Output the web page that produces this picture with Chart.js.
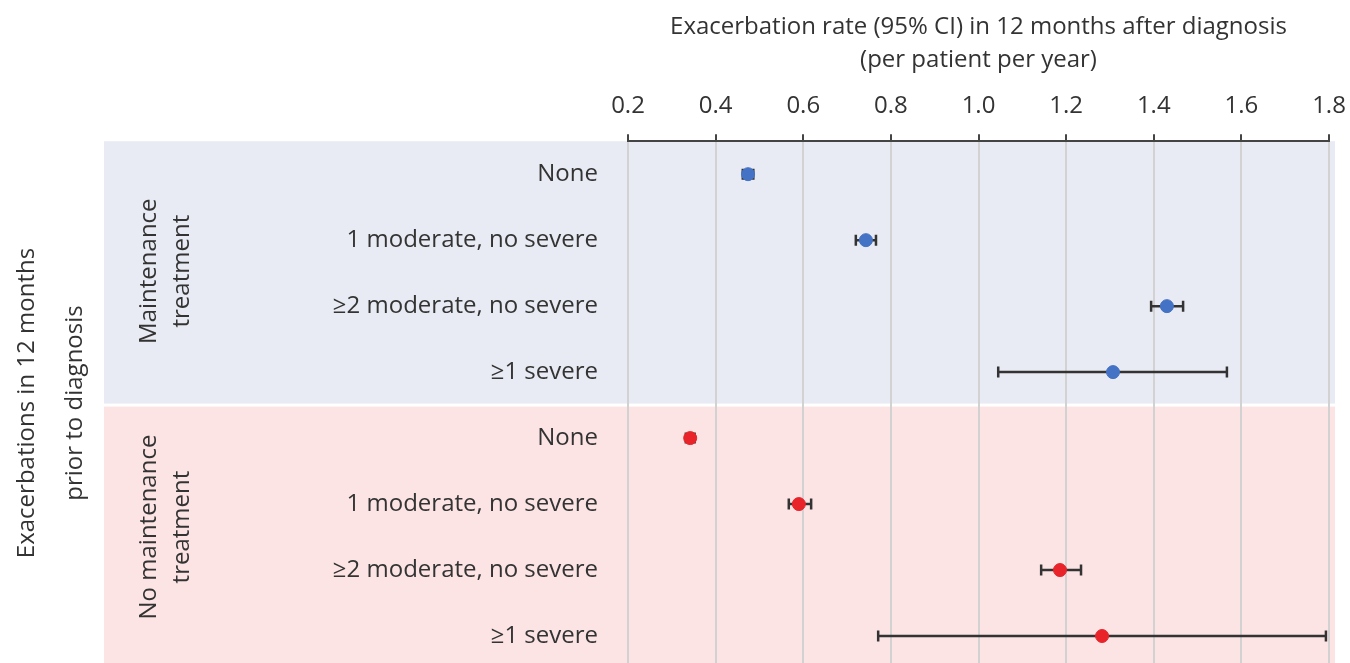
<!DOCTYPE html>
<html>
<head>
<meta charset="utf-8">
<script src="https://cdn.jsdelivr.net/npm/chart.js@4.4.1/dist/chart.umd.min.js"></script>
<style>
  html, body { margin: 0; padding: 0; background: #fff; overflow: hidden; }
  #wrap { width: 1350px; height: 663px; overflow: hidden; }
</style>
</head>
<body>
<div id="wrap"><canvas id="rateChart" width="1350" height="672"></canvas></div>
<script>
// Exacerbation rate after diagnosis, by prior exacerbation history and treatment
var rowLabels = [
    'None', '1 moderate, no severe', '\u22652 moderate, no severe', '\u22651 severe',
    'None', '1 moderate, no severe', '\u22652 moderate, no severe', '\u22651 severe'
];
var groupLabels = [['Maintenance', 'treatment'], ['No maintenance', 'treatment']];
var xTicks = [0.2, 0.4, 0.6, 0.8, 1.0, 1.2, 1.4, 1.6, 1.8];

// maintenance treatment (rows 0-3)
var maintRate = [0.474, 0.743, 1.430, 1.307];
var maintLow  = [0.462, 0.720, 1.394, 1.045];
var maintHigh = [0.486, 0.766, 1.467, 1.567];

// no maintenance treatment (rows 4-7)
var noMaintRate = [0.342, 0.590, 1.186, 1.282];
var noMaintLow  = [0.332, 0.567, 1.143, 0.771];
var noMaintHigh = [0.352, 0.618, 1.234, 1.793];

var FONT = '"Open Sans", Lato, sans-serif';
var FONT_SIZE = 24;
var TEXT = '#333';

function toPoints(rate, low, high, offset) {
    return rate.map(function (r, i) {
        return { x: r, y: i + offset, lo: low[i], hi: high[i] };
    });
}

var bandsPlugin = {
    id: 'bands',
    beforeDraw: function (chart) {
        var ctx = chart.ctx, area = chart.chartArea, y = chart.scales.y;
        var mid = y.getPixelForValue(3.5);
        var left = 104, right = area.right + 6;
        ctx.save();
        ctx.fillStyle = '#e8ebf3';
        ctx.fillRect(left, area.top, right - left, mid - 1.5 - area.top);
        ctx.fillStyle = '#fce4e4';
        ctx.fillRect(left, mid + 1.5, right - left, area.bottom - mid - 1.5);

        // group labels, rotated
        ctx.fillStyle = TEXT;
        ctx.font = FONT_SIZE + 'px ' + FONT;
        ctx.textAlign = 'center';
        ctx.textBaseline = 'middle';
        var centers = [(area.top + mid) / 2 - 2, (mid + area.bottom) / 2 - 10];
        groupLabels.forEach(function (lines, g) {
            ctx.save();
            ctx.translate(166, centers[g]);
            ctx.rotate(-Math.PI / 2);
            lines.forEach(function (t, k) {
                ctx.fillText(t, 0, (k - 0.5) * 33);
            });
            ctx.restore();
        });

        // outer axis title
        ctx.save();
        ctx.translate(51, 403);
        ctx.rotate(-Math.PI / 2);
        ctx.fillText('Exacerbations in 12 months', 0, -24);
        ctx.fillText('prior to diagnosis', 0, 24);
        ctx.restore();
        ctx.restore();
    },
    beforeDatasetsDraw: function (chart) {
        var ctx = chart.ctx, xs = chart.scales.x, ys = chart.scales.y;
        ctx.save();
        ctx.strokeStyle = '#333';
        ctx.lineWidth = 2.5;
        chart.data.datasets.forEach(function (ds) {
            ds.data.forEach(function (p) {
                var py = ys.getPixelForValue(p.y);
                var x1 = xs.getPixelForValue(p.lo), x2 = xs.getPixelForValue(p.hi);
                ctx.beginPath();
                ctx.moveTo(x1, py); ctx.lineTo(x2, py);
                ctx.moveTo(x1, py - 5.5); ctx.lineTo(x1, py + 5.5);
                ctx.moveTo(x2, py - 5.5); ctx.lineTo(x2, py + 5.5);
                ctx.stroke();
            });
        });
        ctx.restore();
    }
};

new Chart(document.getElementById('rateChart').getContext('2d'), {
    type: 'scatter',
    data: {
        datasets: [{
            label: 'Maintenance treatment',
            data: toPoints(maintRate, maintLow, maintHigh, 0),
            backgroundColor: '#4472c4',
            borderColor: '#4472c4',
            pointRadius: 6.5
        }, {
            label: 'No maintenance treatment',
            data: toPoints(noMaintRate, noMaintLow, noMaintHigh, 4),
            backgroundColor: '#e8232a',
            borderColor: '#e8232a',
            pointRadius: 6.5
        }]
    },
    options: {
        responsive: false,
        animation: false,
        layout: { autoPadding: false, padding: { left: 0, right: 21, top: 0, bottom: 3 } },
        scales: {
            x: {
                type: 'linear',
                position: 'top',
                min: 0.2,
                max: 1.8,
                afterBuildTicks: function (scale) {
                    scale.ticks = xTicks.map(function (v) { return { value: v }; });
                },
                afterFit: function (scale) {
                    scale.height = 52;
                    scale.paddingLeft = 0;
                    scale.paddingRight = 0;
                },
                grid: { color: '#d2d2d2', lineWidth: 2, tickColor: '#444', tickLength: 7 },
                border: { color: '#444', width: 2 },
                ticks: {
                    color: TEXT,
                    padding: 14,
                    font: { family: FONT, size: FONT_SIZE },
                    callback: function (v) { return v.toFixed(1); }
                }
            },
            y: {
                type: 'linear',
                reverse: true,
                min: -0.5,
                max: 7.5,
                afterBuildTicks: function (scale) {
                    scale.ticks = rowLabels.map(function (l, i) { return { value: i }; });
                },
                afterFit: function (scale) {
                    scale.width = 628;
                    scale.paddingTop = 0;
                    scale.paddingBottom = 0;
                },
                grid: { display: false, drawTicks: false },
                border: { display: false },
                ticks: {
                    color: TEXT,
                    padding: 30,
                    font: { family: FONT, size: FONT_SIZE },
                    callback: function (v) { return rowLabels[v]; }
                }
            }
        },
        plugins: {
            legend: { display: false },
            tooltip: { enabled: false },
            title: {
                display: true,
                fullSize: false,
                text: ['Exacerbation rate (95% CI) in 12 months after diagnosis', '(per patient per year)'],
                color: TEXT,
                font: { family: FONT, size: FONT_SIZE, weight: 'normal', lineHeight: 1.4 },
                padding: { top: 10, bottom: 12 }
            }
        }
    },
    plugins: [bandsPlugin]
});
</script>
</body>
</html>
